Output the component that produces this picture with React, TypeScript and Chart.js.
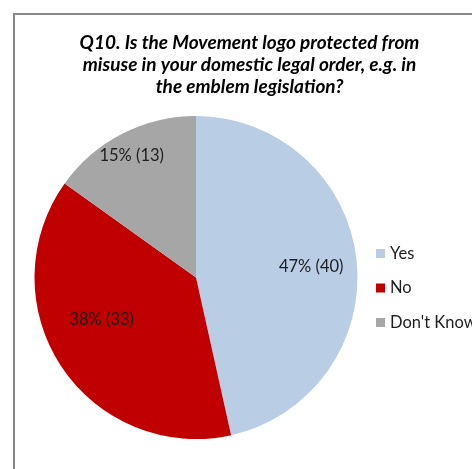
import React, { useEffect, useRef } from "react";
import { Chart, registerables } from "chart.js";

Chart.register(...registerables);

const TITLE_LINES = [
  "Q10. Is the Movement logo protected from",
  "misuse in your domestic legal order, e.g. in",
  "the emblem legislation?",
];
const CATEGORIES = ["Yes", "No", "Don't Know"];
const COUNTS = [40, 33, 13];
const COLORS = ["#B9CDE5", "#C00000", "#A6A6A6"];

// label placement inside each slice: fraction of radius, angle shift (deg)
const LABEL_RADIUS = [0.716, 0.64, 0.854];
const LABEL_SHIFT = [1.1, 9.3, -0.6];

const FONT = "Lato, 'Open Sans', sans-serif";

const W = 472;
const H = 469;

export default function App() {
  const ref = useRef<HTMLCanvasElement | null>(null);

  useEffect(() => {
    const canvas = ref.current;
    if (!canvas) return;
    const total = COUNTS.reduce((a, b) => a + b, 0);

    const overlay = {
      id: "overlay",
      afterDatasetsDraw(chart: any) {
        const ctx = chart.ctx as CanvasRenderingContext2D;
        ctx.save();
        // slice labels
        const meta = chart.getDatasetMeta(0);
        ctx.font = `16.5px ${FONT}`;
        ctx.fillStyle = "#1e1e1e";
        ctx.textAlign = "center";
        ctx.textBaseline = "middle";
        meta.data.forEach((arc: any, i: number) => {
          const p = arc.getProps(["x", "y", "startAngle", "endAngle", "outerRadius"], true);
          const mid = (p.startAngle + p.endAngle) / 2 + (LABEL_SHIFT[i] * Math.PI) / 180;
          const r = p.outerRadius * LABEL_RADIUS[i];
          const pct = Math.round((COUNTS[i] / total) * 100);
          ctx.fillText(`${pct}% (${COUNTS[i]})`, p.x + Math.cos(mid) * r, p.y + Math.sin(mid) * r);
        });
        // title
        ctx.font = `italic bold 19px ${FONT}`;
        ctx.fillStyle = "#000";
        TITLE_LINES.forEach((line, i) => {
          ctx.fillText(line, 249.5, 43 + i * 21.8);
        });
        // legend
        ctx.font = `16.5px ${FONT}`;
        ctx.textAlign = "left";
        CATEGORIES.forEach((c, i) => {
          const cy = 253.5 + i * 34.5;
          ctx.fillStyle = COLORS[i];
          ctx.fillRect(376, cy - 4.5, 9, 9);
          ctx.fillStyle = "#1e1e1e";
          ctx.fillText(c, 390, cy);
        });
        ctx.restore();
      },
    };

    const chart = new Chart(canvas, {
      type: "pie",
      data: {
        labels: CATEGORIES,
        datasets: [
          {
            data: COUNTS,
            backgroundColor: COLORS,
            borderWidth: 0,
          },
        ],
      },
      options: {
        responsive: false,
        animation: false,
        devicePixelRatio: 1,
        layout: { padding: { left: 34, right: 114, top: 116, bottom: 30 } },
        plugins: {
          legend: { display: false },
          title: { display: false },
          tooltip: { enabled: false },
        },
      },
      plugins: [overlay],
    });
    return () => chart.destroy();
  }, []);

  return (
    <div
      style={{
        position: "fixed",
        left: 0,
        top: 0,
        width: W,
        height: H,
        overflow: "hidden",
        background: "#fff",
      }}
    >
      <div
        style={{
          position: "absolute",
          left: 13,
          top: 13,
          width: 600,
          height: 600,
          border: "2px solid #888888",
        }}
      />
      <canvas
        ref={ref}
        width={W}
        height={H}
        style={{ position: "absolute", left: 0, top: 0, width: W, height: H }}
      />
    </div>
  );
}
